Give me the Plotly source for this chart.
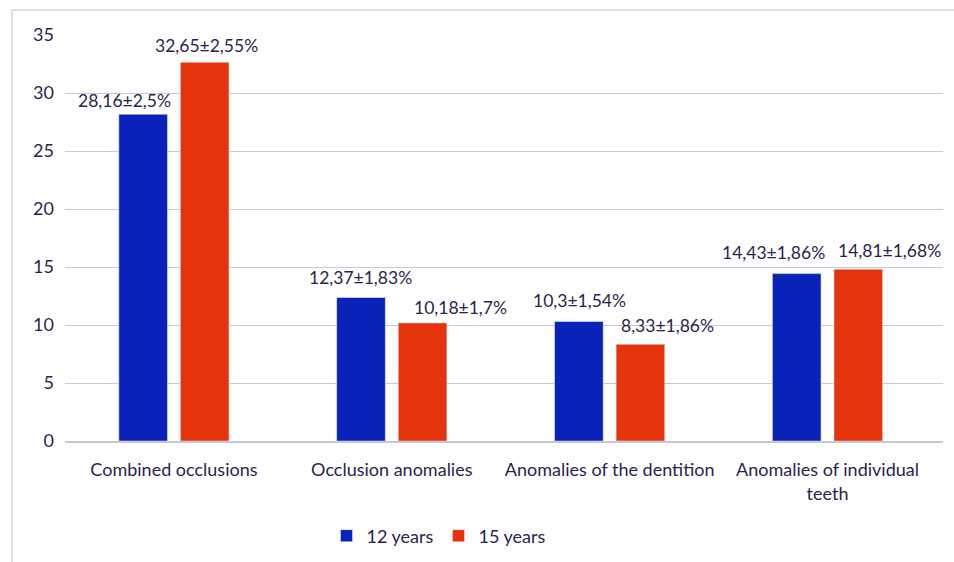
import plotly.graph_objects as go

categories = ["Combined occlusions", "Occlusion anomalies", "Anomalies of the dentition",
              "Anomalies of individual<br>teeth"]
series_names = ["12 years", "15 years"]
values_12 = [28.16, 12.37, 10.3, 14.43]
values_15 = [32.65, 10.18, 8.33, 14.81]
labels_12 = ["28,16±2,5%", "12,37±1,83%", "10,3±1,54%", "14,43±1,86%"]
labels_15 = ["32,65±2,55%", "10,18±1,7%", "8,33±1,86%", "14,81±1,68%"]
tick_vals = [0, 5, 10, 15, 20, 25, 30, 35]

# styling: label offsets in pixels (dx, dy) relative to bar top-center
shift_12 = [(-18, 14), (0, 20), (1, 21), (-23, 21)]
shift_15 = [(2, 17), (38, 15), (27, 19), (31, 19)]

BLUE = "#0A22B8"
RED = "#E5330C"
TXT = "#2B1F4E"
GRID = "#CBC5DC"
FONT = "Lato"

fig = go.Figure()
fig.add_trace(go.Bar(x=categories, y=values_12, name=series_names[0], marker_color=BLUE))
fig.add_trace(go.Bar(x=categories, y=values_15, name=series_names[1], marker_color=RED))

BAR_OFF = 31
for vals, labs, shifts, sgn in [(values_12, labels_12, shift_12, -1), (values_15, labels_15, shift_15, 1)]:
    for c, v, t, (dx, dy) in zip(categories, vals, labs, shifts):
        fig.add_annotation(x=c, y=v, text=t, showarrow=False, xref="x", yref="y",
                           xshift=sgn * BAR_OFF + dx, yshift=dy, yanchor="middle",
                           font=dict(family=FONT, size=17.5, color=TXT))

# frame border
fig.add_shape(type="rect", xref="paper", yref="paper",
              x0=(12 - 65) / 878, x1=(958 - 65) / 878, y0=(441 - 570) / 406, y1=(441 - 10) / 406,
              line=dict(color="#D8D4E2", width=1.5), fillcolor="rgba(0,0,0,0)", layer="below")

fig.update_layout(
    width=954, height=562,
    margin=dict(l=65, r=11, t=35, b=121, autoexpand=False),
    paper_bgcolor="white", plot_bgcolor="white",
    barmode="group", bargap=0.435, bargroupgap=0.21,
    font=dict(family=FONT, size=18, color=TXT),
    showlegend=True,
    legend=dict(orientation="h", x=(439 - 65) / 878, xanchor="center", y=(441 - 536) / 406, yanchor="middle",
                font=dict(family=FONT, size=18, color=TXT), itemwidth=30, traceorder="normal"),
    xaxis=dict(showgrid=False, showline=True, linecolor=GRID, linewidth=1.5, ticks="",
               ticklabelstandoff=12, automargin=False,
               tickfont=dict(family=FONT, size=18, color=TXT)),
    yaxis=dict(range=[0, 35], tickvals=tick_vals, showgrid=True, gridcolor=GRID, gridwidth=1.3,
               zeroline=False, showline=False, ticks="", ticklabelstandoff=10, automargin=False,
               tickfont=dict(family=FONT, size=18, color=TXT)),
)

fig.write_html("out.html")
